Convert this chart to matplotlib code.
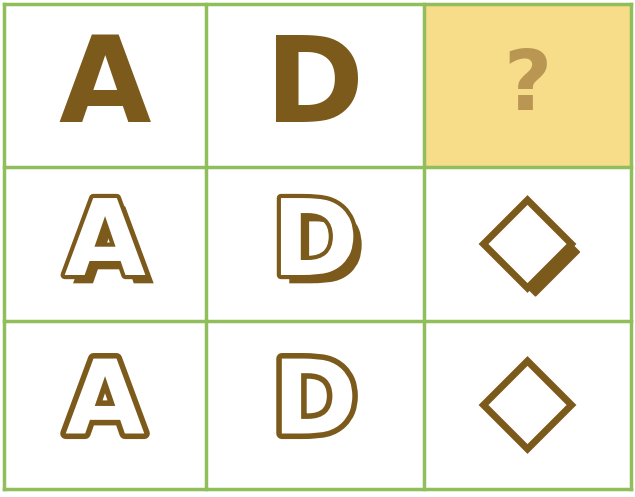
import matplotlib
matplotlib.use('Agg')
import matplotlib.pyplot as plt
import matplotlib.patheffects as pe
from matplotlib.patches import Polygon, Rectangle

# grid layout (pixel coordinates of the puzzle image)
col_edges = [4, 206, 424, 631]
row_edges = [4, 167, 321, 489]
letters = ['A', 'D']
styles = ['solid', 'shadow', 'outline']
diamond_styles = ['shadow', 'outline']

BROWN = '#7b5a1c'
GREEN = '#8fbe5a'
CELL_Q = '#f7dc8a'

fig = plt.figure(figsize=(6.35, 4.97), dpi=100)
ax = fig.add_axes([0, 0, 1, 1])
ax.set_xlim(0, 635)
ax.set_ylim(497, 0)
ax.axis('off')

# question cell
ax.add_patch(Rectangle((col_edges[2], row_edges[0]), col_edges[3] - col_edges[2],
                       row_edges[1] - row_edges[0], color=CELL_Q, zorder=0))

for x in col_edges:
    ax.plot([x, x], [row_edges[0], row_edges[-1]], color=GREEN, lw=2.5, zorder=5)
for y in row_edges:
    ax.plot([col_edges[0], col_edges[-1]], [y, y], color=GREEN, lw=2.5, zorder=5)

sizes = [86, 76, 74]
offsets = [3, 2, 0]
for r, style in enumerate(styles):
    cy = (row_edges[r] + row_edges[r + 1]) / 2 + offsets[r]
    for c, ch in enumerate(letters):
        cx = (col_edges[c] + col_edges[c + 1]) / 2
        kw = dict(ha='center', va='center', fontsize=sizes[r], fontweight='heavy',
                  family='DejaVu Sans')
        if style == 'solid':
            ax.text(cx, cy, ch, color=BROWN, **kw)
        elif style == 'shadow':
            ax.text(cx, cy, ch, color='white',
                    path_effects=[pe.SimplePatchShadow(offset=(6, -6), shadow_rgbFace=BROWN, alpha=1),
                                  pe.Stroke(linewidth=6, foreground=BROWN), pe.Normal()], **kw)
        else:
            ax.text(cx, cy, ch, color='white',
                    path_effects=[pe.Stroke(linewidth=8, foreground=BROWN), pe.Normal()], **kw)

# question mark
qx = (col_edges[2] + col_edges[3]) / 2
ax.text(qx, 86, '?', ha='center', va='center', fontsize=60, fontweight='heavy',
        color='#b08a4a', alpha=0.85)

# diamonds
for i, style in enumerate(diamond_styles):
    r = i + 1
    cx = qx
    cy = (row_edges[r] + row_edges[r + 1]) / 2
    h = 44
    pts = [(cx, cy - h), (cx + h, cy), (cx, cy + h), (cx - h, cy)]
    if style == 'shadow':
        d = 8
        sh = [(cx + d, cy - h + d), (cx + h + d, cy + d), (cx + d, cy + h + d), (cx - h + d, cy + d)]
        ax.add_patch(Polygon(sh, closed=True, color=BROWN, zorder=2))
    ax.add_patch(Polygon(pts, closed=True, facecolor='white', edgecolor=BROWN, lw=5, zorder=3))

fig.savefig('out.png', dpi=100)
